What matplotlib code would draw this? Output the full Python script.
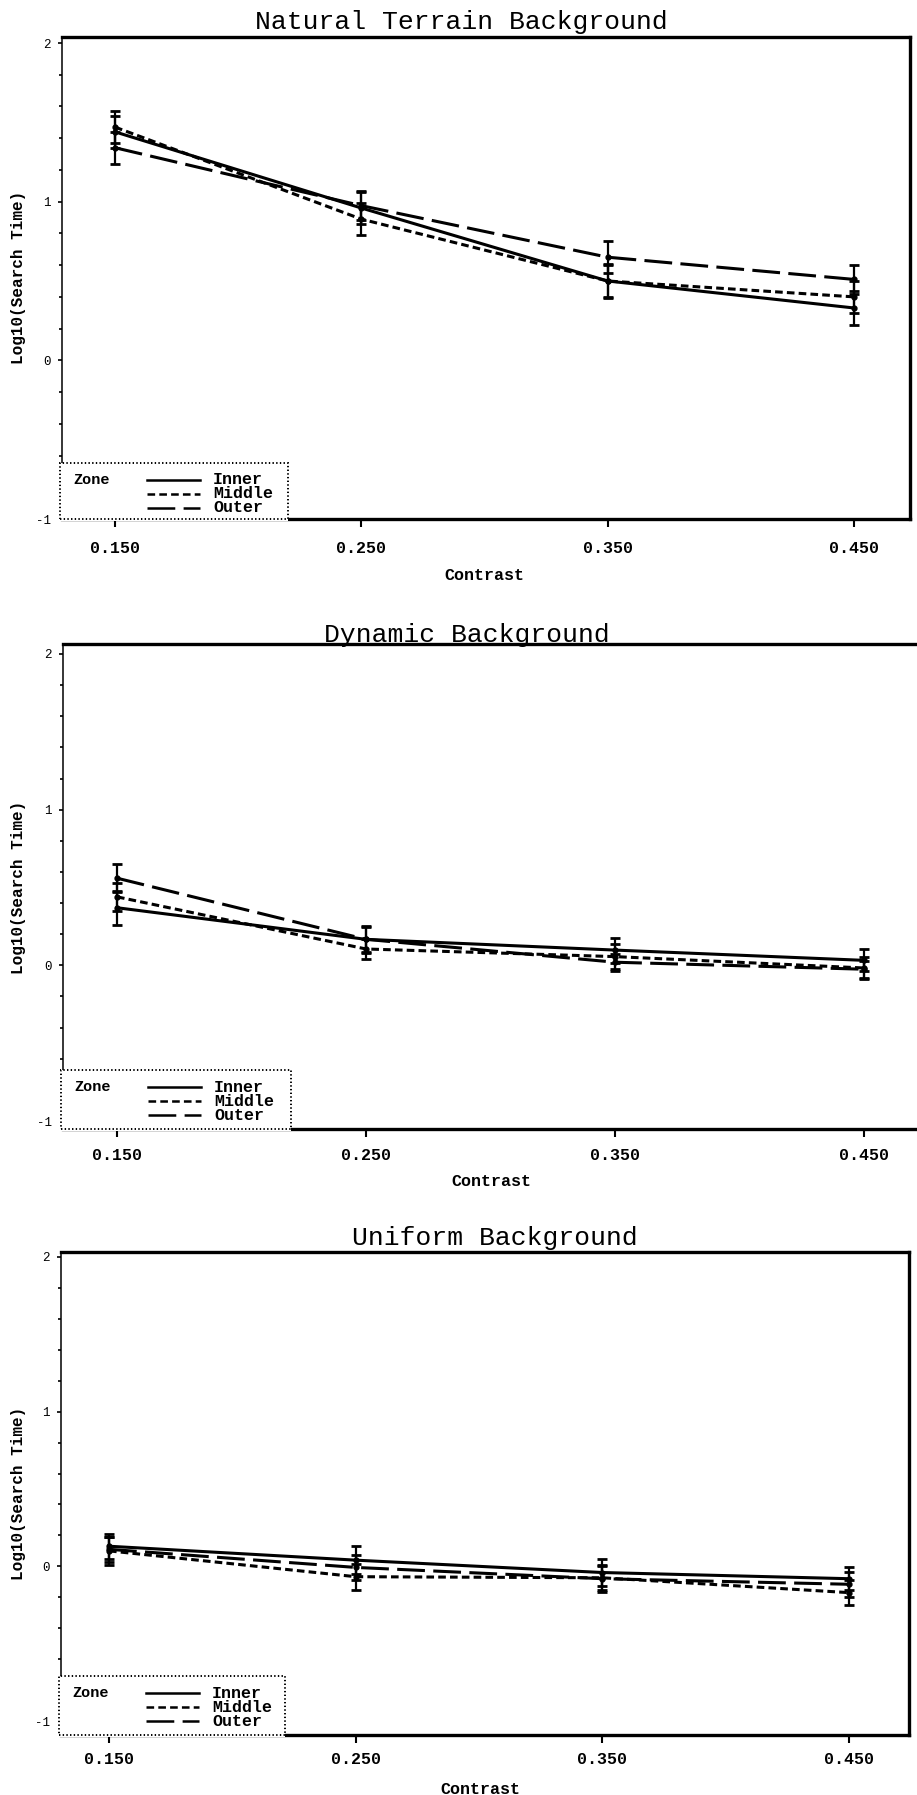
import matplotlib
matplotlib.use('Agg')
import matplotlib.pyplot as plt
from matplotlib.patches import Rectangle
from matplotlib.lines import Line2D
from matplotlib.ticker import MultipleLocator

# ---------------- data ----------------
contrast = [0.15, 0.25, 0.35, 0.45]
xtick_labels = ['0.150', '0.250', '0.350', '0.450']
yticks = [-1, 0, 1, 2]
ytick_labels = ['-1', '0', '1', '2']
zones = ['Inner', 'Middle', 'Outer']
titles = ['Natural Terrain Background', 'Dynamic Background', 'Uniform Background']

natural_inner = [1.44, 0.96, 0.50, 0.33]
natural_middle = [1.47, 0.89, 0.50, 0.40]
natural_outer = [1.34, 0.975, 0.65, 0.51]
natural_inner_err = [0.10, 0.10, 0.11, 0.11]
natural_middle_err = [0.10, 0.10, 0.10, 0.10]
natural_outer_err = [0.10, 0.09, 0.10, 0.09]

dynamic_inner = [0.37, 0.167, 0.098, 0.032]
dynamic_middle = [0.44, 0.105, 0.056, -0.017]
dynamic_outer = [0.56, 0.167, 0.02, -0.025]
dynamic_inner_err = [0.11, 0.085, 0.08, 0.07]
dynamic_middle_err = [0.09, 0.065, 0.08, 0.07]
dynamic_outer_err = [0.09, 0.08, 0.055, 0.055]

uniform_inner = [0.13, 0.04, -0.04, -0.08]
uniform_middle = [0.10, -0.067, -0.074, -0.17]
uniform_outer = [0.11, -0.007, -0.08, -0.116]
uniform_inner_err = [0.08, 0.09, 0.09, 0.073]
uniform_middle_err = [0.09, 0.083, 0.08, 0.08]
uniform_outer_err = [0.08, 0.08, 0.085, 0.08]

panels_means = [
    [natural_inner, natural_middle, natural_outer],
    [dynamic_inner, dynamic_middle, dynamic_outer],
    [uniform_inner, uniform_middle, uniform_outer],
]
panels_errs = [
    [natural_inner_err, natural_middle_err, natural_outer_err],
    [dynamic_inner_err, dynamic_middle_err, dynamic_outer_err],
    [uniform_inner_err, uniform_middle_err, uniform_outer_err],
]

# ---------------- layout (pixels) ----------------
W, H = 917, 1795
plt.rcParams['lines.scale_dashes'] = False
LAB = 'Liberation Mono'

layout = [
    # left, right, top, bottom, x015px, x045px, y2px, ym1px, title cx, title cy,
    # xlabel cx, xlabel cy, ylabel cy, xtick pad, legend right, legend top
    dict(l=62, r=910, t=37, b=519, x015=115, x045=854, y2=43, ym1=519,
         tcx=461, tcy=22, xlx=484, xly=575, yly=277, pad=10, lr=288, lt=463),
    dict(l=63, r=925, t=644, b=1129, x015=117, x045=864, y2=654, ym1=1121,
         tcx=467, tcy=635, xlx=491, xly=1181, yly=887, pad=8, lr=291, lt=1070),
    dict(l=61, r=909, t=1252, b=1735, x015=109, x045=849, y2=1257, ym1=1721,
         tcx=495, tcy=1238, xlx=480, xly=1790, yly=1493, pad=6, lr=285, lt=1676),
]

styles = [
    dict(linestyle='-'),
    dict(linestyle=(0, (5.5, 3.0))),
    dict(linestyle=(0, (20, 6))),
]
LW = 2.2

fig = plt.figure(figsize=(W / 100, H / 100), dpi=100)
fig.patch.set_facecolor('white')

for p in range(3):
    L = layout[p]
    l, r, t, b = L['l'], L['r'], L['t'], L['b']
    ax = fig.add_axes([l / W, 1 - b / H, (r - l) / W, (b - t) / H])
    ppx = (L['x045'] - L['x015']) / 0.3
    ax.set_xlim(0.15 - (L['x015'] - l) / ppx, 0.45 + (r - L['x045']) / ppx)
    ppy = (L['ym1'] - L['y2']) / 3.0
    ax.set_ylim(-1 - (b - L['ym1']) / ppy, 2 + (L['y2'] - t) / ppy)

    means = panels_means[p]
    errs = panels_errs[p]
    for k in range(3):
        ax.errorbar(contrast, means[k], yerr=errs[k], fmt='none', ecolor='black',
                    elinewidth=1.6, capsize=3.5, capthick=2.0, zorder=3)
        ax.plot(contrast, means[k], color='black', lw=LW, marker='o', ms=3.5,
                zorder=4, **styles[k])

    ax.set_xticks(contrast)
    ax.set_xticklabels(xtick_labels, fontfamily=LAB, fontweight='bold', fontsize=12)
    ax.set_yticks(yticks)
    ax.set_yticklabels(ytick_labels, fontfamily=LAB, fontsize=9)
    ax.yaxis.set_minor_locator(MultipleLocator(0.2))
    ax.tick_params(axis='x', direction='out', length=6, width=1.5, pad=L['pad'])
    ax.tick_params(axis='y', which='major', direction='out', length=3, width=1.2, pad=5)
    ax.tick_params(axis='y', which='minor', direction='out', length=2, width=1.2)

    for side in ['top', 'right', 'bottom']:
        ax.spines[side].set_linewidth(2.4)
    ax.spines['left'].set_linewidth(1.1)

    ax.set_xlabel('Contrast', fontfamily=LAB, fontweight='bold', fontsize=12)
    ax.xaxis.set_label_coords((L['xlx'] - l) / (r - l), (b - L['xly']) / (b - t))
    ax.xaxis.label.set_va('center')
    ax.set_ylabel('Log10(Search Time)', fontfamily=LAB, fontweight='bold', fontsize=11.5)
    ax.yaxis.set_label_coords((19 - l) / (r - l), (b - L['yly']) / (b - t))
    ax.yaxis.label.set_va('center')

    fig.text(L['tcx'] / W, 1 - L['tcy'] / H, titles[p], fontfamily=LAB,
             fontsize=19, ha='center', va='center')

    # legend box (dotted), in axes fraction
    wpx, hpx = r - l, b - t
    def fx(px):
        return (px - l) / wpx
    def fy(py):
        return (b - py) / hpx
    lx0, lx1 = fx(l - 2), fx(L['lr'])
    ly0, ly1 = fy(b), fy(L['lt'])
    ax.add_patch(Rectangle((fx(l - 4), fy(b + 2)), lx1 - fx(l - 4), ly1 - fy(b + 2),
                           transform=ax.transAxes, facecolor='white', edgecolor='none',
                           clip_on=False, zorder=5))
    ax.add_patch(Rectangle((lx0, ly0), lx1 - lx0, ly1 - ly0, transform=ax.transAxes,
                           facecolor='none', edgecolor='black', linestyle=':',
                           linewidth=1.4, clip_on=False, zorder=6))
    top = L['lt']
    ax.text(fx(l + 11), fy(top + 17), 'Zone', transform=ax.transAxes,
            fontfamily=LAB, fontweight='bold', fontsize=11, ha='left', va='center',
            zorder=7)
    for k in range(3):
        yy = fy(top + 17 + 14 * k)
        ax.add_line(Line2D([fx(l + 85), fx(l + 138)], [yy, yy], transform=ax.transAxes,
                           color='black', lw=1.8, clip_on=False, zorder=7, **styles[k]))
        ax.text(fx(l + 151), yy, zones[k], transform=ax.transAxes, fontfamily=LAB,
                fontweight='bold', fontsize=12, ha='left', va='center', zorder=7)

fig.savefig('out.png', dpi=100, facecolor='white')
